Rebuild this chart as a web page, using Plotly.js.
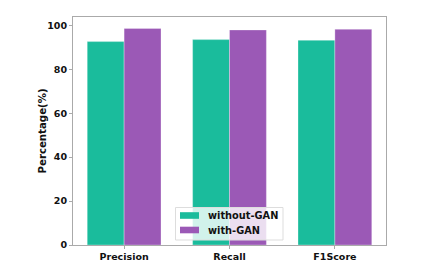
<!DOCTYPE html>
<html><head><meta charset="utf-8">
<script src="https://cdn.plot.ly/plotly-3.0.1.min.js"></script>
<style>body{margin:0;padding:0;background:#fff}#c{width:429px;height:275px}</style>
</head><body><div id="c"></div>
<script>
const categories = ["Precision", "Recall", "F1Score"];
const withoutGAN = [92.6, 93.5, 93.2];
const withGAN = [98.6, 97.9, 98.2];
const seriesNames = ["without-GAN", "with-GAN"];
const seriesColors = ["#1abc9c", "#9b59b6"];
const yTicks = [0, 20, 40, 60, 80, 100];
const yTitle = "Percentage(%)";

const W = 429, H = 275, M = {l: 73, r: 43, t: 17, b: 30};
const pw = W - M.l - M.r, ph = H - M.t - M.b;
const px = x => (x - M.l) / pw;
const py = y => (H - M.b - y) / ph;

const fnt = {family: "DejaVu Sans", size: 9.5, color: "#111"};
const lfnt = {family: "DejaVu Sans", size: 9.8, color: "#111"};
const data = [
  {type: "bar", name: seriesNames[0], x: [0,1,2], y: withoutGAN, marker: {color: seriesColors[0], line: {color: "rgba(255,255,255,0.6)", width: 0.5}}},
  {type: "bar", name: seriesNames[1], x: [0,1,2], y: withGAN, marker: {color: seriesColors[1], line: {color: "rgba(255,255,255,0.6)", width: 0.5}}}
];

// custom legend (matplotlib style)
const shapes = [{type: "rect", xref: "paper", yref: "paper", x0: px(175.5), x1: px(283), y0: py(240), y1: py(207.5),
  fillcolor: "rgba(255,255,255,0.8)", line: {color: "#ddd", width: 1}, layer: "above"}];
const annotations = [];
const rowY = [215.5, 230];
seriesNames.forEach((n, i) => {
  shapes.push({type: "rect", xref: "paper", yref: "paper", x0: px(180), x1: px(199), y0: py(rowY[i] + 3.3), y1: py(rowY[i] - 3.3),
    fillcolor: seriesColors[i], line: {width: 0}, layer: "above"});
  annotations.push({xref: "paper", yref: "paper", x: px(206), y: py(rowY[i]), xanchor: "left", yanchor: "middle",
    text: "<b>" + n + "</b>", showarrow: false, font: lfnt});
});
annotations.push({xref: "paper", yref: "paper", x: px(41.5), y: 0.5, xanchor: "center", yanchor: "middle",
  text: "<b>" + yTitle + "</b>", textangle: -90, showarrow: false, font: {family: "DejaVu Sans", size: 10.2, color: "#111"}});

const layout = {
  width: W, height: H,
  margin: M,
  paper_bgcolor: "#fff", plot_bgcolor: "#fff",
  barmode: "group", bargap: 0.3, bargroupgap: 0,
  font: fnt,
  xaxis: {
    range: [-0.485, 2.485], tickvals: [0,1,2], ticktext: categories.map(c => "<b>" + c + "</b>"),
    showgrid: false, zeroline: false, showline: true, linecolor: "#aaa", linewidth: 1, mirror: true,
    ticks: "outside", ticklen: 3, tickcolor: "#aaa", tickfont: fnt
  },
  yaxis: {
    range: [0, 103.8], tickvals: yTicks, ticktext: yTicks.map(v => "<b>" + v + "</b>"),
    showgrid: false, zeroline: false, showline: true, linecolor: "#aaa", linewidth: 1, mirror: true,
    ticks: "outside", ticklen: 3, tickcolor: "#aaa", tickfont: fnt
  },
  shapes: shapes,
  annotations: annotations,
  showlegend: false
};
Plotly.newPlot("c", data, layout, {displayModeBar: false, staticPlot: true});
</script></body></html>
